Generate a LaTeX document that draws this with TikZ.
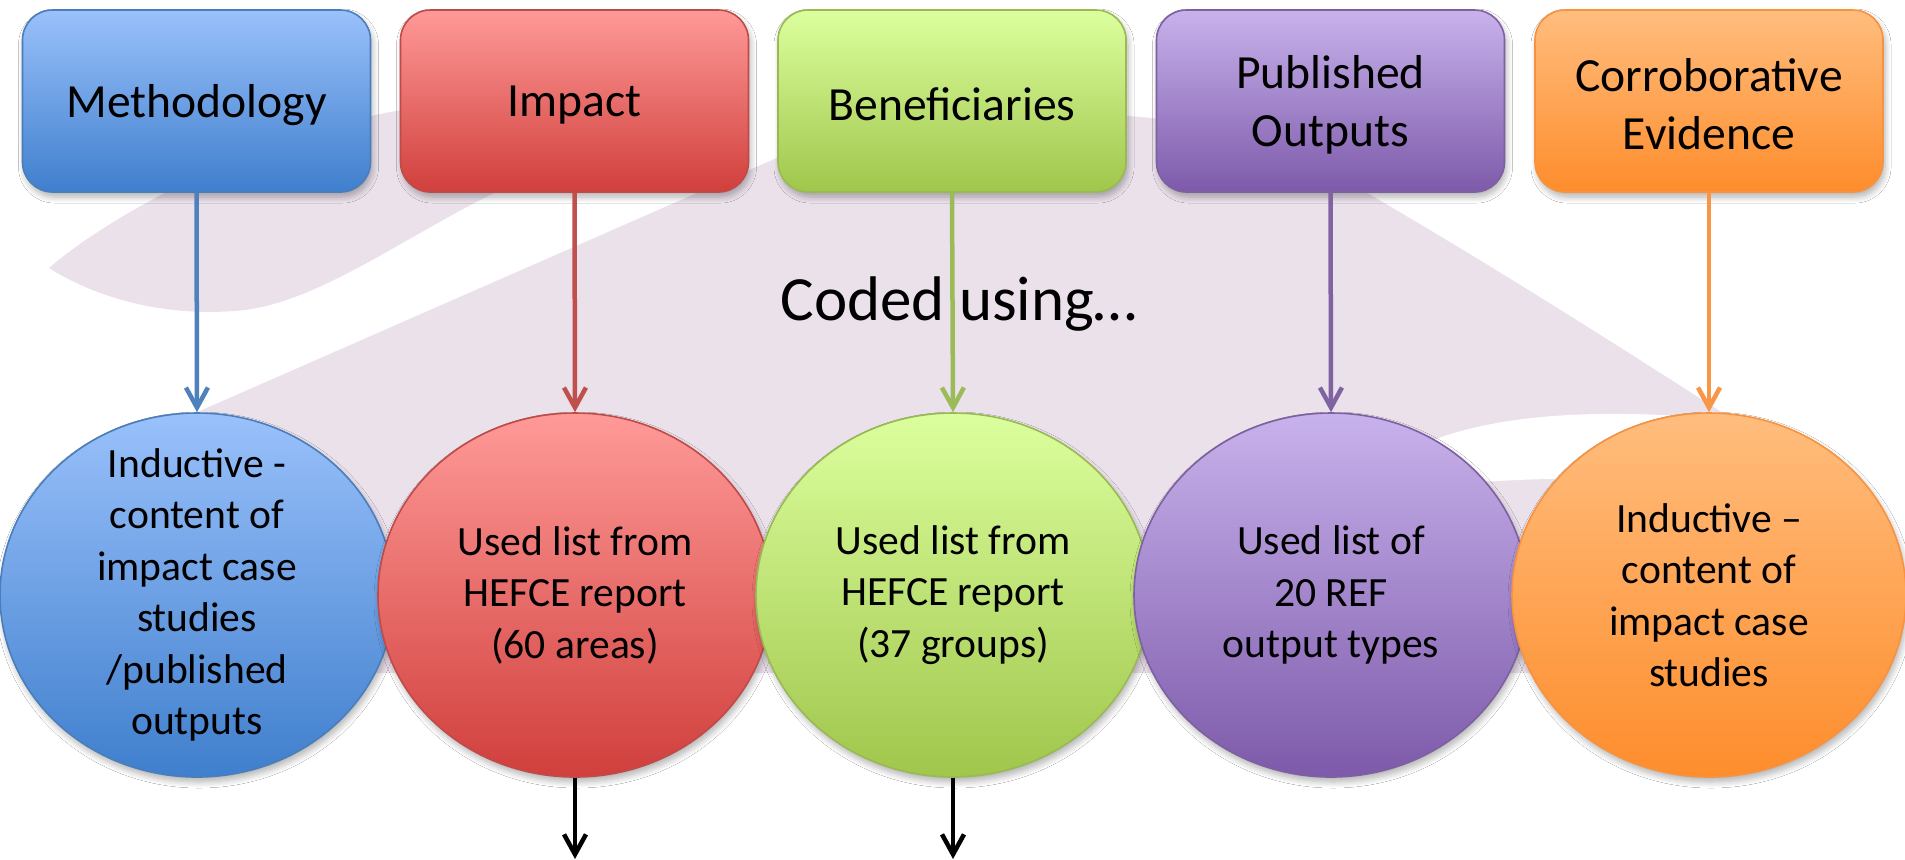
\documentclass[tikz,border=0pt]{standalone}
\usepackage{fontspec}
\setmainfont{Carlito}
\usetikzlibrary{shapes.geometric,arrows.meta,shadows.blur}

% theme colours: fill top, fill bottom, outline, connector
\definecolor{swoosh}{HTML}{EBE1EB}
\definecolor{blueT}{HTML}{9AC1FB}\definecolor{blueD}{HTML}{3F7FCD}\definecolor{blueB}{HTML}{4A7EBB}\definecolor{blueA}{HTML}{4F81BD}
\definecolor{redT}{HTML}{FF9A98}\definecolor{redD}{HTML}{D03F3C}\definecolor{redB}{HTML}{BE4B48}\definecolor{redA}{HTML}{C0504D}
\definecolor{grnT}{HTML}{DCFF9E}\definecolor{grnD}{HTML}{A0C64C}\definecolor{grnB}{HTML}{98B954}\definecolor{grnA}{HTML}{9BBB59}
\definecolor{purT}{HTML}{C8B2EC}\definecolor{purD}{HTML}{7D5AAA}\definecolor{purB}{HTML}{7D60A0}\definecolor{purA}{HTML}{8064A2}
\definecolor{orgT}{HTML}{FFBD7E}\definecolor{orgD}{HTML}{FE8D2C}\definecolor{orgB}{HTML}{F69240}\definecolor{orgA}{HTML}{F79646}

\tikzset{
  softshadow/.style={blur shadow={shadow xshift=1pt, shadow yshift=-2.5pt,
      shadow blur radius=3pt, shadow blur steps=8, shadow opacity=30}},
  catbox/.style={rectangle, rounded corners=15pt, minimum width=174pt,
      minimum height=91pt, inner sep=0pt, line width=0.8pt, softshadow},
  boxtext/.style={align=center, inner sep=0pt, yshift=-1.8pt,
      font=\fontsize{23.8}{29}\selectfont},
  codeell/.style={ellipse, minimum width=197pt, minimum height=182pt,
      inner sep=0pt, line width=0.8pt, softshadow},
  elltext/.style={align=center, inner sep=0pt, font=\fontsize{20.8}{25.75}\selectfont},
  link/.style={line width=2.25pt, -{Straight Barb[length=10pt,width=11pt]}},
  bluefill/.style={draw=blueB, top color=blueT, bottom color=blueD},
  redfill/.style={draw=redB, top color=redT, bottom color=redD},
  grnfill/.style={draw=grnB, top color=grnT, bottom color=grnD},
  purfill/.style={draw=purB, top color=purT, bottom color=purD},
  orgfill/.style={draw=orgB, top color=orgT, bottom color=orgD},
}

\begin{document}
\begin{tikzpicture}[x=0.5pt, y=-0.5pt]
\useasboundingbox (0,0) rectangle (1905,859);
\fill[white] (0,0) rectangle (1905,859);

% decorative backdrop: upper-left horn
\fill[swoosh] (49,268) .. controls (110,215) and (250,140) .. (385,113)
  .. controls (500,92) and (620,92) .. (700,100)
  .. controls (620,140) and (540,170) .. (490,195)
  .. controls (400,240) and (320,300) .. (245,310)
  .. controls (170,318) and (100,300) .. (49,268) -- cycle;
% backdrop: large wing
\fill[swoosh] (150,440) -- (202,410) -- (779,157)
  .. controls (899,104) and (1050,108) .. (1140,117)
  .. controls (1240,125) and (1310,160) .. (1367,193)
  .. controls (1500,270) and (1640,360) .. (1723,413)
  -- (1760,432) -- (1700,520) -- (1650,673) -- (150,673) -- cycle;
% backdrop: white stripe through the wing
\fill[white] (1380,470) .. controls (1430,428) and (1520,415) .. (1600,414)
  .. controls (1680,413) and (1730,420) .. (1765,430)
  .. controls (1700,465) and (1620,478) .. (1550,479)
  .. controls (1480,480) and (1420,490) .. (1380,470) -- cycle;

\node[anchor=base, inner sep=0pt, font=\fontsize{31.5}{36}\selectfont] (coded) at (959,320) {Coded using…};

% category boxes
\node[catbox, bluefill] (m) at (196.5,101) {};
\node[boxtext] (mt) at (m) {Methodology};
\node[catbox, redfill]  (i) at (574.5,101) {};
\node[boxtext] (it) at (i) {Impact};
\node[catbox, grnfill]  (b) at (952,101) {};
\node[boxtext] (bt) at (b) {Beneficiaries};
\node[catbox, purfill]  (p) at (1330.5,101) {};
\node[boxtext] (pt) at (p) {Published\\Outputs};
\node[catbox, orgfill]  (c) at (1709,101) {};
\node[boxtext] (ct) at (c) {Corroborative\\Evidence};

% coding schemes
\node[codeell, bluefill] (e1) at (197,595) {};
\node[elltext] (t1) at (e1) {Inductive -\\content of\\impact case\\studies\\/published\\outputs};
\node[codeell, redfill] (e2) at (575,595) {};
\node[elltext] (t2) at (e2) {Used list from\\HEFCE report\\(60 areas)};
\node[codeell, grnfill] (e3) at (953,595) {};
\node[elltext] (t3) at (e3) {Used list from\\HEFCE report\\(37 groups)};
\node[codeell, purfill] (e4) at (1331,595) {};
\node[elltext] (t4) at (e4) {Used list of\\20 REF\\output types};
\node[codeell, orgfill] (e5) at (1709,595) {};
\node[elltext] (t5) at (e5) {Inductive –\\content of\\impact case\\studies};

% connectors
\draw[link, blueA] (m.south) -- (e1.north);
\draw[link, redA]  (i.south) -- (e2.north);
\draw[link, grnA]  (b.south) -- (e3.north);
\draw[link, purA]  (p.south) -- (e4.north);
\draw[link, orgA]  (c.south) -- (e5.north);

\coordinate (o2) at (575,859);
\coordinate (o3) at (953,859);
\draw[link, black] (e2.south) -- (o2);
\draw[link, black] (e3.south) -- (o3);
\end{tikzpicture}
\end{document}
